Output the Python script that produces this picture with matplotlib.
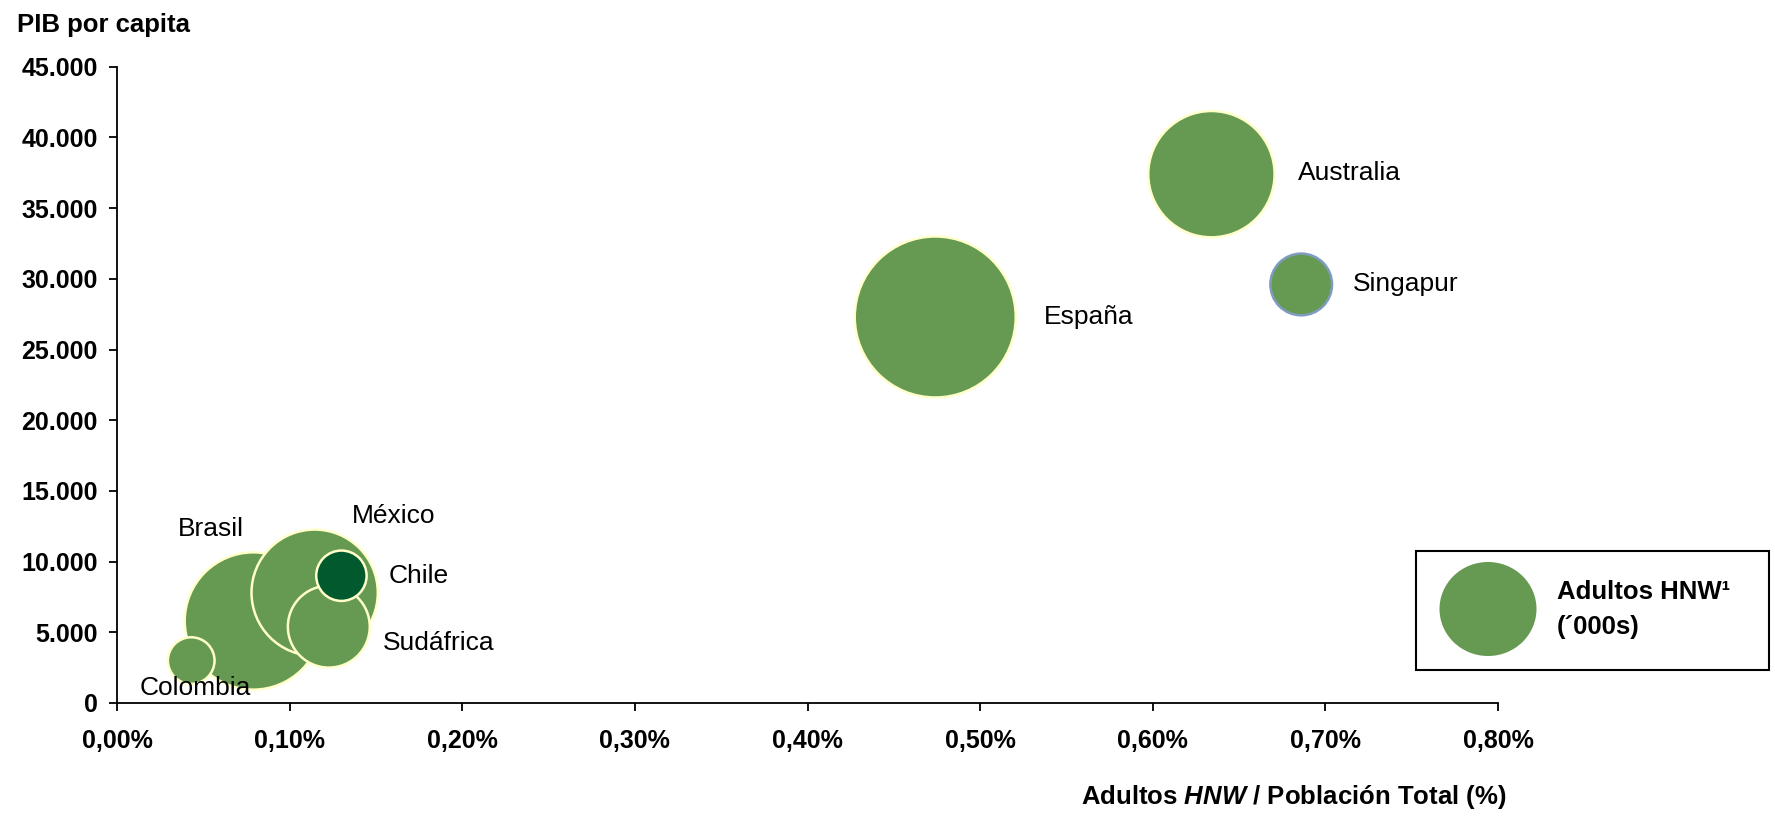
import numpy as np
import matplotlib
matplotlib.use('Agg')
import matplotlib.pyplot as plt
from matplotlib.ticker import FuncFormatter, MultipleLocator
from matplotlib.patches import Rectangle, Ellipse

plt.rcParams['font.family'] = ['Liberation Sans', 'DejaVu Sans']
plt.rcParams['mathtext.fontset'] = 'custom'
plt.rcParams['mathtext.it'] = 'Liberation Sans:italic:bold'
plt.rcParams['mathtext.rm'] = 'Liberation Sans:bold'

# datos
paises = ['España', 'Brasil', 'Australia', 'México', 'Sudáfrica', 'Singapur', 'Chile', 'Colombia']
hnw_pct = [0.474, 0.079, 0.634, 0.1145, 0.1227, 0.686, 0.130, 0.043]   # Adultos HNW / poblacion (%)
pib = [27300, 5800, 37400, 7800, 5400, 29600, 9000, 3000]               # PIB por capita
hnw_miles = [143, 104, 88, 88, 37, 21, 14, 12]                          # Adultos HNW ('000s)

verde = '#669952'
fill = [verde, verde, verde, verde, verde, verde, '#005A2E', verde]
edge = ['#FFFFCC'] * 5 + ['#7F9CBF', '#FFFFCC', '#FFFFCC']

# offsets de las etiquetas en puntos
offs = {'España': (78, 0), 'Brasil': (-54, 66), 'Australia': (62, 1), 'México': (27, 55),
        'Sudáfrica': (39, -12), 'Singapur': (37, 0), 'Chile': (34, 0), 'Colombia': (-37, -20)}

fig = plt.figure(figsize=(17.75, 8.17), dpi=100)
ax = fig.add_axes([117 / 1775, 1 - 703 / 817, (1498 - 117) / 1775, (703 - 66.7) / 817])

# diametro en px proporcional a sqrt(HNW); s en pt^2
diam = 161 * np.sqrt(np.array(hnw_miles) / 143.0)
sizes = (diam * 0.72) ** 2
ax.scatter(hnw_pct, pib, s=sizes, c=fill, edgecolors=edge, linewidths=1.8, zorder=3)

for p, x, y in zip(paises, hnw_pct, pib):
    ax.annotate(p, (x, y), xytext=offs[p], textcoords='offset points',
                ha='left', va='center', fontsize=19, annotation_clip=False, zorder=4)

ax.set_xlim(0, 0.8)
ax.set_ylim(0, 45000)
ax.xaxis.set_major_locator(MultipleLocator(0.1))
ax.yaxis.set_major_locator(MultipleLocator(5000))
ax.xaxis.set_major_formatter(FuncFormatter(lambda v, _: f'{v:.2f}'.replace('.', ',') + '%'))
ax.yaxis.set_major_formatter(FuncFormatter(lambda v, _: f'{int(v):,}'.replace(',', '.')))
for sp in ['top', 'right']:
    ax.spines[sp].set_visible(False)
for sp in ['left', 'bottom']:
    ax.spines[sp].set_linewidth(1.3)
ax.tick_params(axis='both', direction='out', length=6, width=1.3, labelsize=18)
ax.tick_params(axis='x', pad=13)
ax.tick_params(axis='y', pad=8)
for lab in ax.get_xticklabels() + ax.get_yticklabels():
    lab.set_fontweight('bold')

fig.text(16.7 / 1775, 1 - 25 / 817, 'PIB por capita', fontsize=18.5, fontweight='bold',
         ha='left', va='center')
fig.text(1507 / 1775, 1 - 797 / 817, r'Adultos $\mathit{HNW}$ / Población Total (%)',
         fontsize=18.5, fontweight='bold', ha='right', va='center')

# leyenda manual
fig.add_artist(Rectangle((1416 / 1775, 1 - 670 / 817), 353 / 1775, 119 / 817,
                         transform=fig.transFigure, fill=False, edgecolor='black', linewidth=1.5))
fig.add_artist(Ellipse((1488 / 1775, 1 - 609 / 817), 97 / 1775, 94 / 817,
                       transform=fig.transFigure, facecolor=verde, edgecolor='none'))
fig.text(1557 / 1775, 1 - 592 / 817, 'Adultos HNW¹', fontsize=18.5, fontweight='bold',
         ha='left', va='center')
fig.text(1557 / 1775, 1 - 627 / 817, '(´000s)', fontsize=18.5, fontweight='bold',
         ha='left', va='center')

fig.savefig('out.png', dpi=100)
